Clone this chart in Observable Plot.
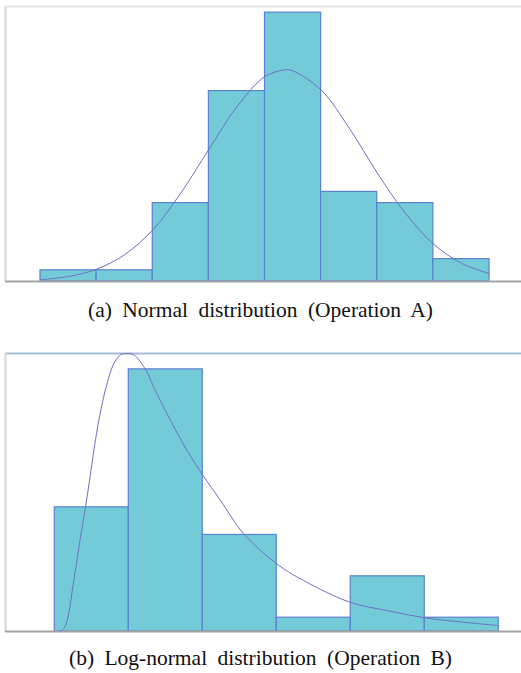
<!DOCTYPE html>
<html>
<head>
<meta charset="utf-8">
<script src="https://cdn.jsdelivr.net/npm/d3@7"></script>
<script src="https://cdn.jsdelivr.net/npm/@observablehq/plot@0.6"></script>
<style>
  body { margin: 0; background: #fff; }
  #wrap { position: relative; width: 521px; height: 673px; overflow: hidden; }
  #wrap svg { position: absolute; left: 0; }
  .cap { position: absolute; left: 0; width: 521px; text-align: center;
         font-family: "Liberation Serif", "Times New Roman", serif; font-size: 21.5px;
         line-height: 20px; color: #111; word-spacing: 5px; white-space: nowrap; }
</style>
</head>
<body>
<div id="wrap"></div>
<script>
// ---- Panel (a): Normal distribution (Operation A) ----
const binsA = [0, 1, 2, 3, 4, 5, 6, 7];            // bin index (left edge)
const countsA = [1, 1, 7, 17, 24, 8, 7, 2];         // frequency per bin
const curveAx = [0, 0.5, 1, 1.5, 2, 2.5, 3, 3.5, 4, 4.37, 4.5, 5, 5.5, 6, 6.5, 7, 7.5, 8];
const curveAy = [0.16, 0.45, 1.1, 2.4, 4.6, 7.9, 11.8, 15.6, 18.3, 18.9, 18.8, 17.1, 13.7, 9.7, 6.1, 3.35, 1.63, 0.7];
const captionA = "(a) Normal distribution (Operation A)";

// ---- Panel (b): Log-normal distribution (Operation B) ----
const binsB = [0, 1, 2, 3, 4, 5];
const countsB = [9, 19, 7, 1, 4, 1];
const curveBx = [0.07, 0.12, 0.168, 0.257, 0.347, 0.415, 0.482, 0.55, 0.617, 0.708, 0.797, 0.888, 0.969, 1.068, 1.226, 1.338, 1.564, 1.789, 2.005, 2.24, 2.55, 3.0, 3.36, 4.0, 4.49, 5.0, 5.53, 6.0];
const curveBy = [0, 0.2, 0.8, 3.7, 6.8, 9.0, 11.4, 13.9, 15.9, 18.0, 19.4, 20.05, 20.15, 20.05, 19.0, 17.7, 15.3, 13.1, 11.3, 9.5, 7.1, 4.9, 3.7, 2.1, 1.52, 0.99, 0.67, 0.43];
const captionB = "(b) Log-normal distribution (Operation B)";

const barFill = "#73CBD7", barStroke = "#5B80D2", curveStroke = "#6F6FC6";

const wrap = document.getElementById("wrap");

function panel({bins, counts, cx, cy, xDomain, yMax, height, marginTop, marginBottom, topStroke, topWidth}) {
  const bars = bins.map((b, i) => ({x1: b, x2: b + 1, y: counts[i]}));
  const curve = cx.map((x, i) => ({x, y: cy[i]}));
  return Plot.plot({
    width: 521, height, marginLeft: 5, marginRight: 0, marginTop, marginBottom,
    x: {domain: xDomain, axis: null},
    y: {domain: [0, yMax], axis: null},
    style: {background: "#fff", overflow: "visible"},
    marks: [
      Plot.ruleY([yMax], {stroke: topStroke, strokeWidth: topWidth}),
      Plot.ruleX([xDomain[0]], {stroke: "#d8d8d8", strokeWidth: 2}),
      Plot.rectY(bars, {x1: "x1", x2: "x2", y: "y", fill: barFill, stroke: barStroke, strokeWidth: 1.2}),
      Plot.ruleY([0], {stroke: "#a3a3a3", strokeWidth: 2}),
      Plot.line(curve, {x: "x", y: "y", stroke: curveStroke, strokeWidth: 1, curve: "catmull-rom"})
    ]
  });
}

const svgA = panel({bins: binsA, counts: countsA, cx: curveAx, cy: curveAy,
  xDomain: [-0.6236, 8.570], yMax: 24.55, height: 290, marginTop: 6, marginBottom: 9,
  topStroke: "#e4e4e4", topWidth: 2});
svgA.style.top = "0px";
wrap.appendChild(svgA);

const capA = document.createElement("div");
capA.className = "cap"; capA.style.top = "300px"; capA.textContent = captionA;
wrap.appendChild(capA);

const svgB = panel({bins: binsB, counts: countsB, cx: curveBx, cy: curveBy,
  xDomain: [-0.666, 6.307], yMax: 20.15, height: 300, marginTop: 13, marginBottom: 9,
  topStroke: "#A9BDD8", topWidth: 2});
svgB.style.top = "340px";
wrap.appendChild(svgB);

const capB = document.createElement("div");
capB.className = "cap"; capB.style.top = "648px"; capB.textContent = captionB;
wrap.appendChild(capB);
</script>
</body>
</html>
